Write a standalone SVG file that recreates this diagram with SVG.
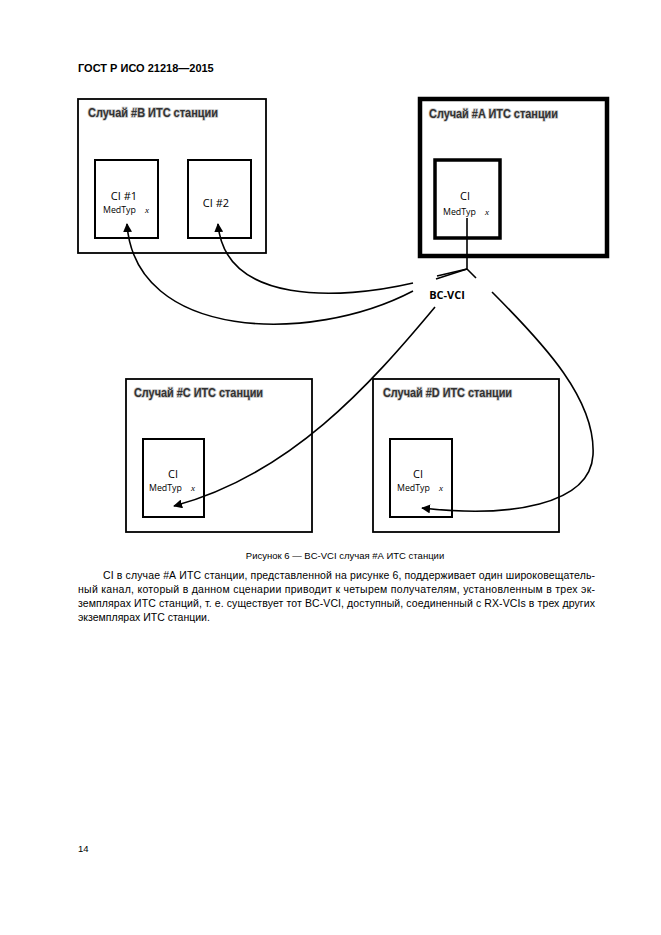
<svg xmlns="http://www.w3.org/2000/svg" width="661" height="935" viewBox="0 0 661 935">
<style>
  .bg{fill:#fff}
  .box{fill:none;stroke:#000;stroke-width:1.8}
  .thick{fill:none;stroke:#000;stroke-width:4.5}
  .inA{fill:none;stroke:#000;stroke-width:3.5}
  .inner{fill:none;stroke:#000;stroke-width:2}
  .ttl{font-family:"Liberation Sans",Arial,sans-serif;font-size:12px;font-weight:bold;fill:#333;stroke:#c8c8c8;stroke-width:1.6;paint-order:stroke}
  .ci{font-family:"Open Sans","Liberation Sans",sans-serif;font-size:11px;fill:#000;text-anchor:middle}
  .mt{font-family:"Open Sans","Liberation Sans",sans-serif;font-size:8.8px;fill:#000}
  .mx{font-family:"Liberation Serif",serif;font-size:9px;font-style:italic;fill:#000}
  .lbl{font-family:"Open Sans","Liberation Sans",sans-serif;font-size:11px;font-weight:bold;fill:#000;text-anchor:middle}
  .hdr{font-family:"Liberation Sans",Arial,sans-serif;font-size:11px;font-weight:bold;fill:#000}
  .body{font-family:"Liberation Sans",Arial,sans-serif;font-size:10.5px;fill:#000}
  .cap{font-family:"Liberation Sans",Arial,sans-serif;font-size:9.5px;fill:#000}
  .conn{fill:none;stroke:#000;stroke-width:1.6}
</style>
<defs>
  <marker id="ah" viewBox="0 0 10 10" refX="9" refY="5" markerWidth="9" markerHeight="9" markerUnits="userSpaceOnUse" orient="auto">
    <path d="M0,0 L10,5 L0,10 Z" fill="#000"/>
  </marker>
</defs>
<rect class="bg" x="0" y="0" width="661" height="935"/>

<text class="hdr" x="78" y="72">ГОСТ Р ИСО 21218—2015</text>

<g id="stationB">
  <rect class="box" x="78" y="99" width="188" height="154"/>
  <text class="ttl" x="88" y="117" textLength="130" lengthAdjust="spacingAndGlyphs">Случай #B ИТС станции</text>
</g>
<g id="ciB1">
  <rect class="inner" x="95" y="160" width="63" height="78"/>
  <text class="ci" x="124" y="200">CI #1</text>
  <text class="mt" x="103" y="213">MedTyp</text>
  <text class="mx" x="145" y="213">x</text>
</g>
<g id="ciB2">
  <rect class="inner" x="188" y="160" width="63" height="78"/>
  <text class="ci" x="216" y="207">CI #2</text>
</g>

<g id="stationA">
  <rect class="thick" x="420" y="99" width="187" height="157"/>
  <text class="ttl" x="429" y="118" textLength="129" lengthAdjust="spacingAndGlyphs">Случай #A ИТС станции</text>
</g>
<g id="ciA">
  <rect class="inA" x="435" y="160" width="65" height="78"/>
  <text class="ci" x="465" y="200">CI</text>
  <text class="mt" x="443" y="215">MedTyp</text>
  <text class="mx" x="485" y="215">x</text>
</g>

<g id="stationC">
  <rect class="box" x="126" y="379" width="186" height="153"/>
  <text class="ttl" x="134" y="397" textLength="129" lengthAdjust="spacingAndGlyphs">Случай #C ИТС станции</text>
</g>
<g id="ciC">
  <rect class="inner" x="143" y="439" width="61" height="78"/>
  <text class="ci" x="173" y="478">CI</text>
  <text class="mt" x="149" y="491">MedTyp</text>
  <text class="mx" x="191" y="491">x</text>
</g>

<g id="stationD">
  <rect class="box" x="373" y="379" width="186" height="153"/>
  <text class="ttl" x="383" y="397" textLength="129" lengthAdjust="spacingAndGlyphs">Случай #D ИТС станции</text>
</g>
<g id="ciD">
  <rect class="inner" x="390" y="439" width="62" height="78"/>
  <text class="ci" x="418" y="478">CI</text>
  <text class="mt" x="397" y="491">MedTyp</text>
  <text class="mx" x="439" y="491">x</text>
</g>

<g id="bcvci">
  <text class="lbl" x="447" y="299">BC-VCI</text>
</g>

<g id="connectors">
  <line class="conn" x1="467" y1="218" x2="467" y2="269"/>
  <line class="conn" x1="467" y1="269" x2="436" y2="279"/>
  <line class="conn" x1="467" y1="269" x2="437" y2="276"/>
  <line class="conn" x1="467" y1="269" x2="476" y2="278"/>
  <path class="conn" d="M413,291 C310,345 135,340 127,224" marker-end="url(#ah)"/>
  <path class="conn" d="M413,283 C340,300 225,305 218,224" marker-end="url(#ah)"/>
  <path class="conn" d="M435,307 C370,385 290,475 174,506" marker-end="url(#ah)"/>
  <path class="conn" d="M492,292 C545,345 596,400 593,455 C590,505 510,518 422,508" marker-end="url(#ah)"/>
</g>

<text class="cap" x="345" y="559" text-anchor="middle">Рисунок 6 — BC-VCI случая #А ИТС станции</text>

<text class="body" x="103" y="579" textLength="492" lengthAdjust="spacing">CI в случае #А ИТС станции, представленной на рисунке 6, поддерживает один широковещатель-</text>
<text class="body" x="78" y="593" textLength="517" lengthAdjust="spacing">ный канал, который в данном сценарии приводит к четырем получателям, установленным в трех эк-</text>
<text class="body" x="78" y="607" textLength="517" lengthAdjust="spacing">земплярах ИТС станций, т. е. существует тот BC-VCI, доступный, соединенный с RX-VCIs в трех других</text>
<text class="body" x="78" y="621">экземплярах ИТС станции.</text>

<text class="cap" x="78" y="852">14</text>
</svg>
